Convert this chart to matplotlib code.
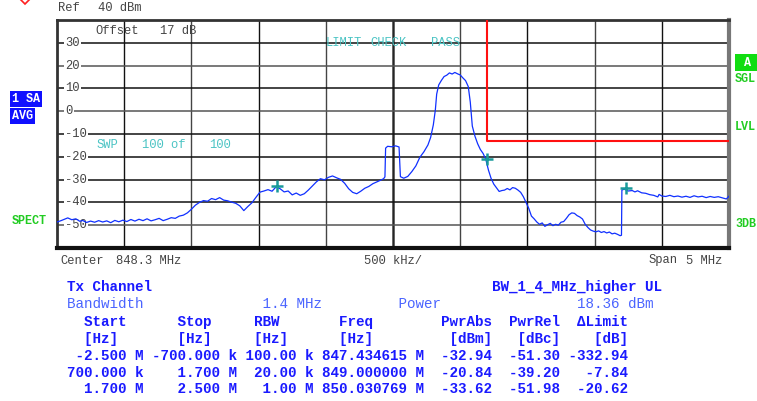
import matplotlib
matplotlib.use("Agg")
import matplotlib.pyplot as plt
from matplotlib.lines import Line2D

plt.rcParams['font.family'] = ['Liberation Mono', 'DejaVu Sans Mono']

# spectrum trace, frequency offset from centre (MHz) and level (dBm)
trace_mhz = [-2.50, -2.47, -2.44, -2.42, -2.39, -2.36, -2.33, -2.31, -2.28, -2.25,
             -2.22, -2.19, -2.16, -2.13, -2.10, -2.07, -2.04, -2.01, -1.98, -1.95,
             -1.92, -1.89, -1.86, -1.83, -1.80, -1.77, -1.74, -1.71, -1.68, -1.65,
             -1.62, -1.59, -1.56, -1.53, -1.50, -1.47, -1.44, -1.41, -1.38, -1.35,
             -1.32, -1.29, -1.26, -1.23, -1.20, -1.17, -1.14, -1.11, -1.08, -1.05,
             -1.02, -0.99, -0.96, -0.93, -0.90, -0.87, -0.84, -0.81, -0.78, -0.75,
             -0.72, -0.69, -0.66, -0.63, -0.60, -0.57, -0.54, -0.51, -0.48, -0.45,
             -0.42, -0.39, -0.36, -0.33, -0.30, -0.27, -0.24, -0.21, -0.18, -0.15,
             -0.12, -0.09, -0.07, -0.06, -0.055, -0.04, -0.01, 0.02, 0.045, 0.055,
             0.08, 0.11, 0.14, 0.17, 0.20, 0.23, 0.26, 0.28, 0.30, 0.315,
             0.325, 0.34, 0.36, 0.38, 0.40, 0.42, 0.44, 0.46, 0.48, 0.50,
             0.52, 0.54, 0.56, 0.575, 0.59, 0.61, 0.63, 0.65, 0.67, 0.69,
             0.71, 0.73, 0.75, 0.77, 0.79, 0.81, 0.83, 0.85, 0.87, 0.89,
             0.91, 0.93, 0.95, 0.97, 0.99, 1.01, 1.03, 1.05, 1.07, 1.09,
             1.11, 1.13, 1.15, 1.17, 1.19, 1.21, 1.23, 1.25, 1.27, 1.29,
             1.31, 1.33, 1.35, 1.37, 1.39, 1.41, 1.43, 1.45, 1.47, 1.49,
             1.51, 1.53, 1.55, 1.57, 1.59, 1.61, 1.63, 1.65, 1.67, 1.69,
             1.70, 1.703, 1.72, 1.75, 1.78, 1.80, 1.82, 1.85, 1.88, 1.91,
             1.94, 1.97, 1.98, 2.00, 2.03, 2.06, 2.09, 2.12, 2.15, 2.18,
             2.21, 2.24, 2.27, 2.30, 2.33, 2.36, 2.39, 2.42, 2.45, 2.48, 2.50]
trace_dbm = [-48.6, -48.0, -47.3, -46.8, -47.6, -47.2, -48.3, -47.9, -48.8, -48.2,
             -48.7, -48.0, -48.6, -48.1, -48.9, -47.9, -48.5, -47.8, -48.4, -47.5,
             -48.2, -47.4, -48.0, -47.2, -48.1, -47.6, -47.0, -48.0, -47.4, -46.7,
             -47.0, -46.0, -45.6, -44.6, -43.0, -41.2, -40.0, -39.2, -39.5, -38.3,
             -38.8, -37.9, -39.0, -39.3, -39.9, -40.4, -41.5, -43.6, -41.8, -40.2,
             -37.8, -35.5, -35.0, -34.4, -35.1, -33.2, -34.0, -35.4, -35.0, -36.7,
             -35.9, -36.9, -36.2, -34.6, -32.8, -31.0, -29.6, -30.1, -29.0, -28.4,
             -29.2, -29.9, -31.6, -34.0, -35.6, -36.2, -35.1, -33.8, -33.0, -31.8,
             -31.0, -30.2, -29.6, -28.8, -16.2, -15.4, -15.6, -15.2, -15.7, -28.7,
             -29.4, -28.6, -26.5, -24.0, -20.2, -17.8, -14.8, -11.5, -6.0, 0.5,
             7.5, 11.5, 13.5, 15.2, 15.8, 16.8, 16.3, 17.0, 16.4, 15.9,
             14.6, 13.4, 10.8, 4.0, -6.5, -11.0, -14.3, -16.8, -18.5, -21.0,
             -25.8, -29.5, -32.0, -33.6, -35.2, -34.8, -34.6, -33.9, -34.5, -33.5,
             -33.8, -34.6, -35.6, -37.5, -40.0, -42.6, -46.0, -47.2, -48.6, -49.6,
             -49.0, -50.5, -49.8, -49.2, -50.2, -49.6, -50.0, -48.7, -48.4, -47.0,
             -45.4, -44.6, -44.8, -45.8, -46.4, -47.3, -49.6, -51.0, -52.1, -52.6,
             -52.9, -52.5, -53.2, -52.8, -53.4, -53.0, -53.8, -53.5, -54.0, -54.6,
             -54.4, -34.6, -34.2, -35.0, -34.8, -35.4, -34.9, -35.8, -36.0, -36.6,
             -36.9, -37.6, -36.5, -37.2, -37.4, -36.9, -37.5, -37.2, -37.7, -37.3,
             -37.8, -37.1, -37.6, -37.3, -37.9, -37.4, -37.8, -37.5, -38.0, -38.5, -37.3]

# limit line
limit_mhz = [0.7, 0.7, 2.5]
limit_dbm = [40, -13, -13]

# markers
marker_mhz = [-0.865385, 0.7, 1.730769]
marker_dbm = [-32.94, -20.84, -33.62]

y_ticks = [30, 20, 10, 0, -10, -20, -30, -40, -50]

# result table
start_labels = ["-2.500 M", "700.000 k", "1.700 M"]
stop_labels = ["-700.000 k", "1.700 M", "2.500 M"]
rbw_labels = ["100.00 k", "20.00 k", "1.00 M"]
freq_labels = ["847.434615 M", "849.000000 M", "850.030769 M"]
pwr_abs = [-32.94, -20.84, -33.62]
pwr_rel = [-51.30, -39.20, -51.98]
delta_limit = [-332.94, -7.84, -20.62]

W, H = 757, 401


def fx(px):
    return px / W


def fy(py):
    return 1 - py / H


def at_cols(items):
    line = ""
    for col, s in items:
        line = line.ljust(col) + s
    return line


fig = plt.figure(figsize=(W / 100, H / 100), dpi=100)
ax = fig.add_axes([fx(57), fy(248), 672 / W, 228 / H])
ax.set_xlim(-2.5, 2.5)
ax.set_ylim(-60, 40)
ax.set_xticks([])
ax.set_yticks([])

# grid
for i in range(1, 10):
    x = -2.5 + 0.5 * i
    if i == 5:
        ax.axvline(x, color='#555555', lw=2.0, zorder=1)
        ax.axvline(x, color='#111111', lw=0.5, zorder=1)
    else:
        ax.axvline(x, color='#111111' if i % 2 else '#444444', lw=1.0, zorder=1)
for v in y_ticks:
    ax.axhline(v, color='#555555' if v in (20, 0, -50) else '#111111', lw=1.1, zorder=1)

for v in y_ticks:
    ax.text(-2.44, v, str(v), ha='left', va='center', fontsize=8.7, color='#444444',
            bbox=dict(boxstyle='square,pad=0.12', fc='white', ec='none'), zorder=2)

ax.spines['top'].set_linewidth(2)
ax.spines['top'].set_color('#333333')
ax.spines['left'].set_linewidth(2)
ax.spines['left'].set_color('#333333')
ax.spines['bottom'].set_linewidth(3)
ax.spines['bottom'].set_color('#111111')
ax.spines['right'].set_linewidth(3)
ax.spines['right'].set_color('#777777')

ax.plot(trace_mhz, trace_dbm, color='#1030ff', lw=0.9, zorder=4)
ax.plot(limit_mhz, limit_dbm, color='#ff1010', lw=1.5, zorder=3)
ax.plot(marker_mhz, marker_dbm, '+', color='#1a9a9a', ms=9, mew=1.8, zorder=5)

# labels in the screen
grey = '#444444'
cyan = '#4cc4c4'
green = '#22cc22'
fig.text(fx(58), fy(8), "Ref", fontsize=8.7, color=grey, va='center')
fig.text(fx(98), fy(8), "40 dBm", fontsize=8.7, color=grey, va='center')
fig.text(fx(95), fy(31), "Offset", fontsize=8.7, color=grey, va='center')
fig.text(fx(160), fy(31), "17 dB", fontsize=8.7, color=grey, va='center')
fig.text(fx(326), fy(43.5), "LIMIT", fontsize=8.7, color=cyan, va='center')
fig.text(fx(370), fy(43.5), "CHECK", fontsize=8.7, color=cyan, va='center')
fig.text(fx(431), fy(43.5), "PASS", fontsize=8.7, color=cyan, va='center')
fig.text(fx(97), fy(144.5), "SWP", fontsize=8.7, color=cyan, va='center')
fig.text(fx(142), fy(144.5), "100 of", fontsize=8.7, color=cyan, va='center')
fig.text(fx(209), fy(144.5), "100", fontsize=8.7, color=cyan, va='center')

fig.text(fx(60), fy(260.5), "Center", fontsize=8.7, color=grey, va='center')
fig.text(fx(116.5), fy(260.5), "848.3 MHz", fontsize=8.7, color=grey, va='center')
fig.text(fx(364), fy(260.5), "500 kHz/", fontsize=8.7, color=grey, va='center')
fig.text(fx(649), fy(260.5), "Span", fontsize=8.7, color=grey, va='center')
fig.text(fx(686), fy(260.5), "5 MHz", fontsize=8.7, color=grey, va='center')

fig.text(fx(12), fy(99), "1 SA", fontsize=8.5, color='white', weight='bold', va='center',
         bbox=dict(boxstyle='square,pad=0.15', fc='#1010ff', ec='none'))
fig.text(fx(12), fy(116), "AVG", fontsize=8.5, color='white', weight='bold', va='center',
         bbox=dict(boxstyle='square,pad=0.15', fc='#1010ff', ec='none'))
fig.text(fx(12), fy(221), "SPECT", fontsize=8.5, color=green, weight='bold', va='center')
fig.text(fx(737), fy(62.5), " A ", fontsize=8.5, color='white', weight='bold', va='center',
         bbox=dict(boxstyle='square,pad=0.2', fc='#11dd11', ec='none'))
fig.text(fx(735), fy(79), "SGL", fontsize=8.5, color=green, weight='bold', va='center')
fig.text(fx(735), fy(127), "LVL", fontsize=8.5, color=green, weight='bold', va='center')
fig.text(fx(735), fy(224), "3DB", fontsize=8.5, color=green, weight='bold', va='center')

fig.add_artist(Line2D([fx(25)], [fy(-2)], marker='D', ms=6, mfc='none', mec='#ff2020',
                      mew=1.2, transform=fig.transFigure))

# table
blue = '#1a1aff'
light = '#4a64ff'
tsize = 10.3
x0 = fx(67)
lines = [
    (287.5, at_cols([(0, "Tx Channel"), (50, "BW_1_4_MHz_higher UL")]), blue, 'bold'),
    (304.5, at_cols([(0, "Bandwidth"), (23, "1.4 MHz"), (39, "Power"), (60, "18.36 dBm")]), light, 'normal'),
    (322, at_cols([(2, "Start"), (13, "Stop"), (22, "RBW"), (32, "Freq"),
                   (44, "PwrAbs"), (52, "PwrRel"), (60, "\u0394Limit")]), blue, 'bold'),
    (339, at_cols([(2, "[Hz]"), (13, "[Hz]"), (22, "[Hz]"), (32, "[Hz]"),
                   (45, "[dBm]"), (53, "[dBc]"), (62, "[dB]")]), blue, 'bold'),
]
for i in range(3):
    row = (f"{start_labels[i]:>9} {stop_labels[i]:>10} {rbw_labels[i]:>8} {freq_labels[i]:>12}"
           f"  {pwr_abs[i]:6.2f}  {pwr_rel[i]:6.2f} {delta_limit[i]:7.2f}")
    lines.append((356 + 16.7 * i, row, blue, 'bold'))

for y, s, c, w in lines:
    fig.text(x0, fy(y), s, fontsize=tsize, color=c, weight=w, va='center')

fig.savefig('out.png', dpi=100)
